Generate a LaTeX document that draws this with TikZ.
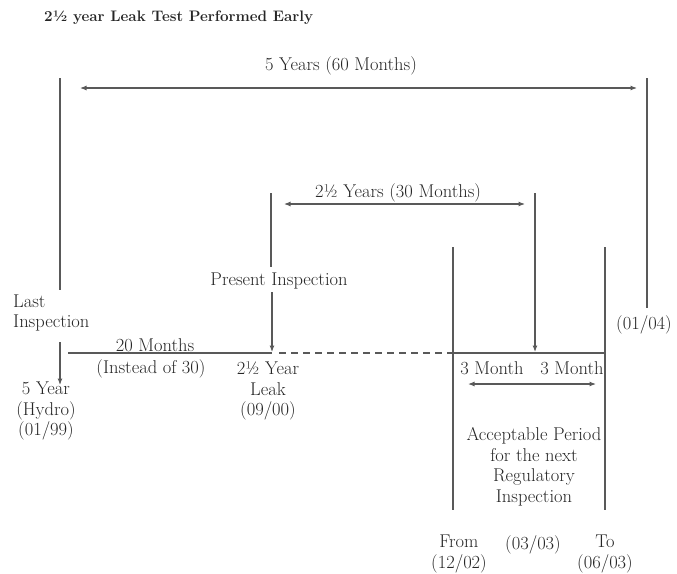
\documentclass[tikz,border=0pt]{standalone}
\usetikzlibrary{arrows.meta}
\begin{document}
\begin{tikzpicture}[x=1pt,y=-1pt,
  >={Latex[length=6.5pt,width=5pt]},
  ln/.style={draw=black!65, line width=1.1pt},
  dashln/.style={draw=black!65, line width=1.1pt, dash pattern=on 7pt off 5pt},
  lbl/.style={inner sep=0pt, align=center, text=black!85, font=\fontsize{18.5}{20.5}\selectfont}]
\useasboundingbox (0,0) rectangle (677,573);

% title
\node[lbl, anchor=west, font=\bfseries\fontsize{15.2}{18}\selectfont] (title) at (44,18) {2\textonehalf{} year Leak Test Performed Early};

% 5 years span
\node[lbl] (five) at (341,66) {5 Years (60 Months)};
\coordinate (T1) at (80,88); \coordinate (T2) at (637,88);
\draw[ln,<->] (T1) -- (T2);

% last inspection
\coordinate (L1) at (60,78); \coordinate (L2) at (60,290);
\draw[ln] (L1) -- (L2);
\node[lbl, align=left, anchor=west] (last) at (13,313) {Last\\Inspection};
\coordinate (L3) at (60,342); \coordinate (L4) at (60,385);
\draw[ln,->] (L3) -- (L4);
\node[lbl] (hydro) at (46,411) {5 Year\\(Hydro)\\(01/99)};

% right end
\coordinate (R1) at (647,78); \coordinate (R2) at (647,308);
\draw[ln] (R1) -- (R2);
\node[lbl] (jan04) at (644,325) {(01/04)};

% present inspection
\coordinate (P1) at (271,193); \coordinate (P2) at (271,267);
\draw[ln] (P1) -- (P2);
\node[lbl] (present) at (279,281) {Present Inspection};
\coordinate (P3) at (272,292); \coordinate (P4) at (272,352);
\draw[ln,->] (P3) -- (P4);

% 2.5 years span
\node[lbl] (half) at (398,193) {2\textonehalf{} Years (30 Months)};
\coordinate (H1) at (284,204); \coordinate (H2) at (525,204);
\draw[ln,<->] (H1) -- (H2);
\coordinate (M1) at (535,193); \coordinate (M2) at (535,352);
\draw[ln,->] (M1) -- (M2);

% timeline
\coordinate (A0) at (68,353); \coordinate (A1) at (272,353);
\coordinate (A1d) at (279,353); \coordinate (A2) at (453,353);
\coordinate (A3) at (605,353);
\draw[ln] (A0) -- (A1);
\draw[dashln] (A1d) -- (A2);
\draw[ln] (A2) -- (A3);

% acceptable window
\coordinate (F1) at (453,247); \coordinate (F2) at (453,510);
\draw[ln] (F1) -- (F2);
\coordinate (G1) at (605,247); \coordinate (G2) at (605,510);
\draw[ln] (G1) -- (G2);

\node[lbl, anchor=base] (twenty) at (155,351) {20 Months};
\node[lbl] (instead) at (151,369) {(Instead of 30)};
\node[lbl] (leak) at (268,391) {2\textonehalf{} Year\\Leak\\(09/00)};

\node[lbl] (m3a) at (492,368) {3 Month};
\node[lbl] (m3b) at (572,368) {3 Month};
\coordinate (B1) at (468,384); \coordinate (B2) at (596,384);
\draw[ln,<->] (B1) -- (B2);
\node[lbl] (accept) at (534,467) {Acceptable Period\\for the next\\Regulatory\\Inspection};

\node[lbl] (from) at (459,554) {From\\(12/02)};
\node[lbl] (mar03) at (533,545) {(03/03)};
\node[lbl] (to) at (605,554) {To\\(06/03)};
\end{tikzpicture}
\end{document}
